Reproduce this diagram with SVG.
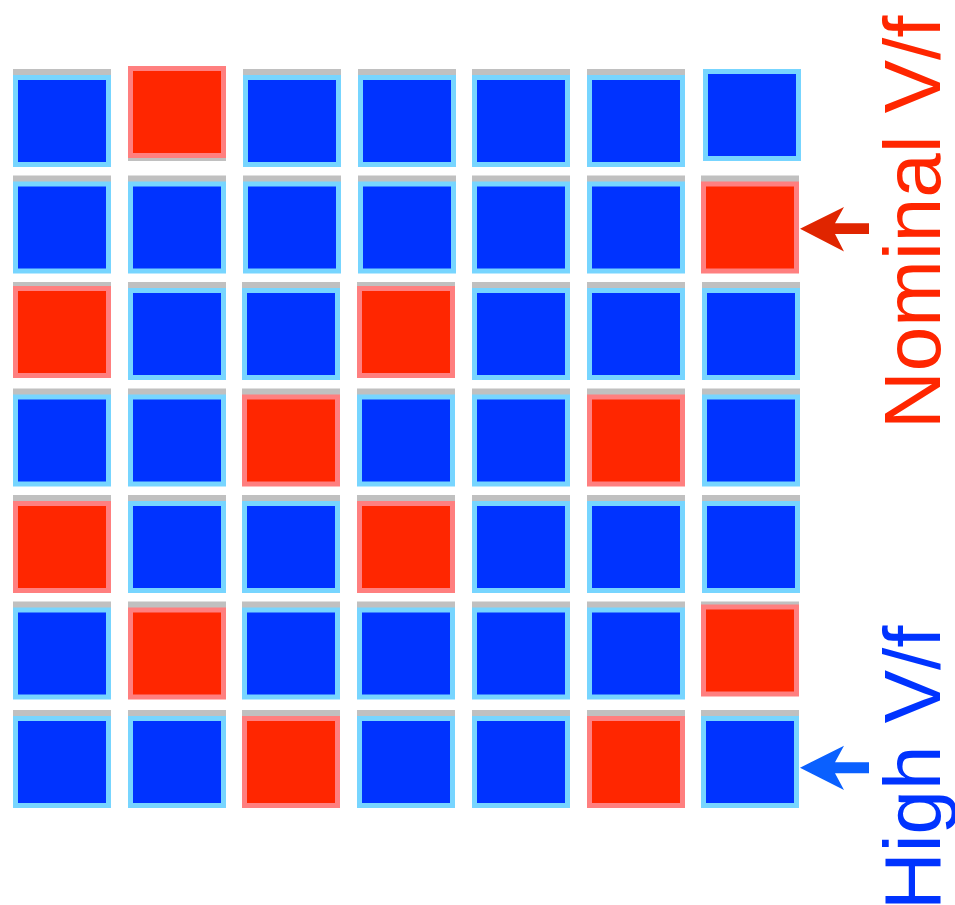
<svg xmlns="http://www.w3.org/2000/svg" width="955" height="905" viewBox="0 0 955 905">
<style>
.sh{fill:#c0c0c0}
.b{fill:#0033ff;stroke:#77d5ff;stroke-width:5}
.r{fill:#ff2600;stroke:#ff7f7f;stroke-width:5}
.lbl{font-family:"Liberation Sans",Arial,sans-serif;font-size:80px}
</style>
<defs>
<g id="shadow"><rect class="sh" x="0" y="-6" width="98" height="92"/></g>
<rect id="blue" class="b" x="2.5" y="2.5" width="93" height="87"/>
<rect id="red" class="r" x="2.5" y="2.5" width="93" height="87"/>
</defs>
<rect width="955" height="905" fill="#ffffff"/>
<g id="grid">
<!-- row 1 -->
<g id="c1-1" transform="translate(13,75)"><use href="#shadow"/><use href="#blue"/></g>
<g id="c1-2" transform="translate(128,75)"><use href="#shadow"/><use href="#red" transform="translate(0,-9)"/></g>
<g id="c1-3" transform="translate(243,75)"><use href="#shadow"/><use href="#blue"/></g>
<g id="c1-4" transform="translate(358,75)"><use href="#shadow"/><use href="#blue"/></g>
<g id="c1-5" transform="translate(472,75)"><use href="#shadow"/><use href="#blue"/></g>
<g id="c1-6" transform="translate(587,75)"><use href="#shadow"/><use href="#blue"/></g>
<g id="c1-7" transform="translate(703,75)"><use href="#shadow"/><use href="#blue" transform="translate(0,-6)"/></g>
<!-- row 2 -->
<g id="c2-1" transform="translate(13,181.5)"><use href="#shadow"/><use href="#blue"/></g>
<g id="c2-2" transform="translate(128,181.5)"><use href="#shadow"/><use href="#blue"/></g>
<g id="c2-3" transform="translate(243,181.5)"><use href="#shadow"/><use href="#blue"/></g>
<g id="c2-4" transform="translate(358,181.5)"><use href="#shadow"/><use href="#blue"/></g>
<g id="c2-5" transform="translate(472,181.5)"><use href="#shadow"/><use href="#blue"/></g>
<g id="c2-6" transform="translate(587,181.5)"><use href="#shadow"/><use href="#blue"/></g>
<g id="c2-7" transform="translate(701,181.5)"><use href="#shadow"/><use href="#red" transform="translate(0,0)"/></g>
<!-- row 3 -->
<g id="c3-1" transform="translate(13,288)"><use href="#shadow"/><use href="#red" transform="translate(0,-2)"/></g>
<g id="c3-2" transform="translate(128,288)"><use href="#shadow"/><use href="#blue"/></g>
<g id="c3-3" transform="translate(242,288)"><use href="#shadow"/><use href="#blue"/></g>
<g id="c3-4" transform="translate(357,288)"><use href="#shadow"/><use href="#red" transform="translate(0,-2)"/></g>
<g id="c3-5" transform="translate(472,288)"><use href="#shadow"/><use href="#blue"/></g>
<g id="c3-6" transform="translate(587,288)"><use href="#shadow"/><use href="#blue"/></g>
<g id="c3-7" transform="translate(702,288)"><use href="#shadow"/><use href="#blue"/></g>
<!-- row 4 -->
<g id="c4-1" transform="translate(13,394.5)"><use href="#shadow"/><use href="#blue"/></g>
<g id="c4-2" transform="translate(128,394.5)"><use href="#shadow"/><use href="#blue"/></g>
<g id="c4-3" transform="translate(242,394.5)"><use href="#shadow"/><use href="#red"/></g>
<g id="c4-4" transform="translate(357,394.5)"><use href="#shadow"/><use href="#blue"/></g>
<g id="c4-5" transform="translate(472,394.5)"><use href="#shadow"/><use href="#blue"/></g>
<g id="c4-6" transform="translate(587,394.5)"><use href="#shadow"/><use href="#red"/></g>
<g id="c4-7" transform="translate(702,394.5)"><use href="#shadow"/><use href="#blue"/></g>
<!-- row 5 -->
<g id="c5-1" transform="translate(13,501)"><use href="#shadow"/><use href="#red"/></g>
<g id="c5-2" transform="translate(128,501)"><use href="#shadow"/><use href="#blue"/></g>
<g id="c5-3" transform="translate(242,501)"><use href="#shadow"/><use href="#blue"/></g>
<g id="c5-4" transform="translate(357,501)"><use href="#shadow"/><use href="#red"/></g>
<g id="c5-5" transform="translate(472,501)"><use href="#shadow"/><use href="#blue"/></g>
<g id="c5-6" transform="translate(587,501)"><use href="#shadow"/><use href="#blue"/></g>
<g id="c5-7" transform="translate(702,501)"><use href="#shadow"/><use href="#blue"/></g>
<!-- row 6 -->
<g id="c6-1" transform="translate(13,607.5)"><use href="#shadow"/><use href="#blue"/></g>
<g id="c6-2" transform="translate(128,607.5)"><use href="#shadow"/><use href="#red"/></g>
<g id="c6-3" transform="translate(242,607.5)"><use href="#shadow"/><use href="#blue"/></g>
<g id="c6-4" transform="translate(357,607.5)"><use href="#shadow"/><use href="#blue"/></g>
<g id="c6-5" transform="translate(472,607.5)"><use href="#shadow"/><use href="#blue"/></g>
<g id="c6-6" transform="translate(587,607.5)"><use href="#shadow"/><use href="#blue"/></g>
<g id="c6-7" transform="translate(701,607.5)"><use href="#shadow"/><use href="#red" transform="translate(0,-3)"/></g>
<!-- row 7 -->
<g id="c7-1" transform="translate(13,716)"><use href="#shadow"/><use href="#blue"/></g>
<g id="c7-2" transform="translate(128,716)"><use href="#shadow"/><use href="#blue"/></g>
<g id="c7-3" transform="translate(242,716)"><use href="#shadow"/><use href="#red"/></g>
<g id="c7-4" transform="translate(357,716)"><use href="#shadow"/><use href="#blue"/></g>
<g id="c7-5" transform="translate(472,716)"><use href="#shadow"/><use href="#blue"/></g>
<g id="c7-6" transform="translate(587,716)"><use href="#shadow"/><use href="#red"/></g>
<g id="c7-7" transform="translate(701,716)"><use href="#shadow"/><use href="#blue"/></g>
</g>
<g id="connectors">
<path id="arrow-nominal" fill="#e02500" d="M800,228.7 L844,207 L835,223.3 L869,223.3 L869,234 L835,234 L844,251.5 Z"/>
<path id="arrow-high" fill="#0a60ff" d="M800,767.7 L844,745.7 L835,762.3 L869,762.3 L869,773.3 L835,773.3 L844,790 Z"/>
</g>
<g id="label-nominal"><text class="lbl" fill="#ff2600" transform="translate(940,429) rotate(-90)">Nominal V/f</text></g>
<g id="label-high"><text class="lbl" fill="#0033ff" transform="translate(940,910) rotate(-90)">High V/f</text></g>
</svg>
